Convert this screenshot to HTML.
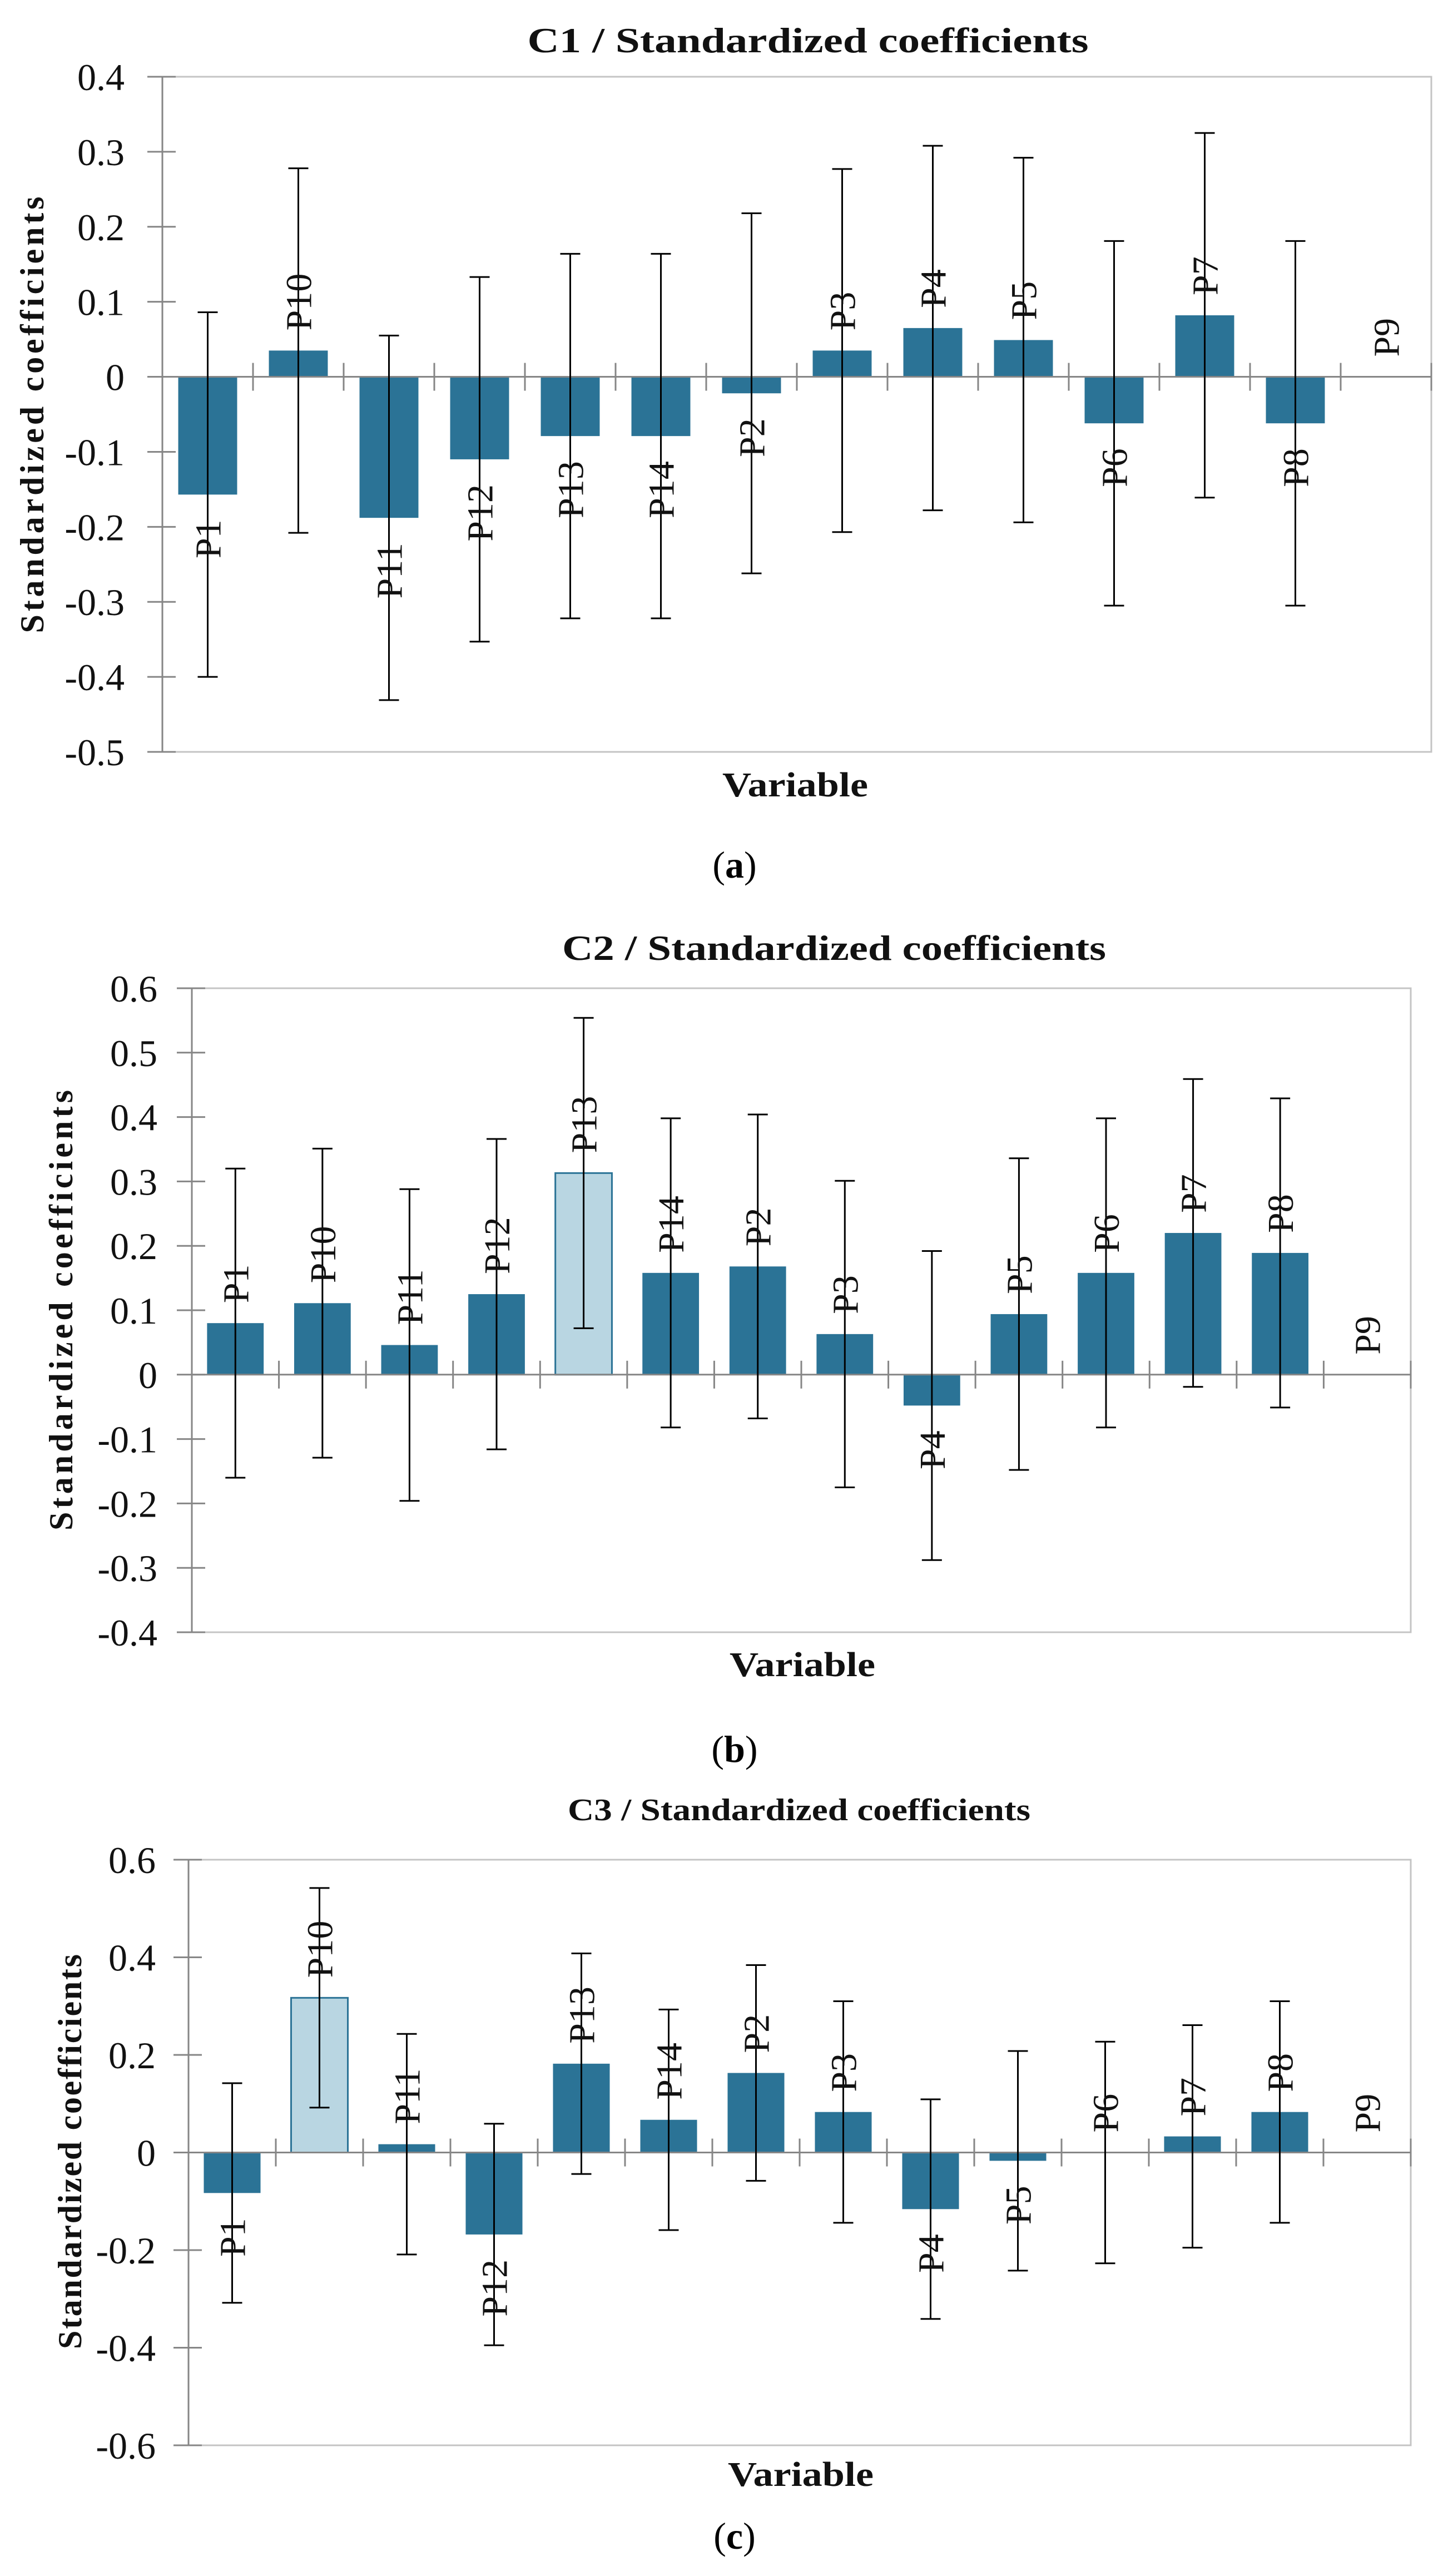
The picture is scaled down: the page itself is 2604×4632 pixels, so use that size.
<!DOCTYPE html>
<html><head><meta charset="utf-8"><style>
html,body{margin:0;padding:0;background:#fff;}
svg{display:block;font-family:"Liberation Serif",serif;}
</style></head><body>
<svg id="fig" width="2604" height="4632" viewBox="0 0 2604 4632" xmlns="http://www.w3.org/2000/svg">
<rect x="0" y="0" width="2604" height="4632" fill="#fff"/>
<g id="c1"></g>
<g id="c2"></g>
<g id="c3"></g>
<text x="1321" y="1578" font-size="68" text-anchor="middle">(<tspan font-weight="bold">a</tspan>)</text>
<text x="1321" y="3168" font-size="68" text-anchor="middle">(<tspan font-weight="bold">b</tspan>)</text>
<text x="1321" y="4583" font-size="68" text-anchor="middle">(<tspan font-weight="bold">c</tspan>)</text>
</svg>
<script>
const categories = ["P1","P10","P11","P12","P13","P14","P2","P3","P4","P5","P6","P7","P8","P9"];
const c1Values = [-0.157,0.035,-0.188,-0.110,-0.079,-0.079,-0.022,0.035,0.065,0.049,-0.062,0.082,-0.062,0];
const c1Errors = [0.243,0.243,0.243,0.243,0.243,0.243,0.240,0.242,0.243,0.243,0.243,0.243,0.243,null];
const c1Ticks = ["0.4","0.3","0.2","0.1","0","-0.1","-0.2","-0.3","-0.4","-0.5"];
const c1Highlight = [];
const c2Values = [0.080,0.111,0.046,0.125,0.313,0.158,0.168,0.063,-0.048,0.094,0.158,0.220,0.189,0];
const c2Errors = [0.240,0.240,0.242,0.241,0.241,0.240,0.236,0.238,0.240,0.242,0.240,0.239,0.240,null];
const c2Ticks = ["0.6","0.5","0.4","0.3","0.2","0.1","0","-0.1","-0.2","-0.3","-0.4"];
const c2Highlight = ["P13"];
const c3Values = [-0.083,0.317,0.017,-0.168,0.182,0.067,0.163,0.083,-0.116,-0.017,0,0.033,0.083,0];
const c3Errors = [0.225,0.225,0.226,0.227,0.226,0.226,0.221,0.227,0.225,0.225,0.227,0.228,0.227,null];
const c3Ticks = ["0.6","0.4","0.2","0","-0.2","-0.4","-0.6"];
const c3Highlight = ["P10"];

const NS = "http://www.w3.org/2000/svg";
function mk(parent, tag, attrs, txt){
  const e = document.createElementNS(NS, tag);
  for (const k in attrs) e.setAttribute(k, attrs[k]);
  if (txt !== undefined) e.textContent = txt;
  parent.appendChild(e);
  return e;
}

function drawChart(gid, cfg, values, errors, ticks, highlight){
  const g = document.getElementById(gid);
  const ymax = parseFloat(ticks[0]), ymin = parseFloat(ticks[ticks.length-1]);
  const y = v => cfg.top + (ymax - v) / (ymax - ymin) * (cfg.bottom - cfg.top);
  const n = categories.length;
  const step = (cfg.right - cfg.left) / n;
  const x = i => cfg.left + step * (i + 0.5);
  const y0 = y(0);

  const frame = mk(g, "path", {d:`M${cfg.left} ${cfg.top}H${cfg.right}V${cfg.bottom}H${cfg.left}`, fill:"none", stroke:"#c4c4c4", "stroke-width":3});
  
  

  ticks.forEach(t => {
    const v = parseFloat(t);
    const tm = mk(g, "line", {x1:cfg.left-27, x2:cfg.left+24, y1:y(v), y2:y(v), stroke:"#868686", "stroke-width":3});
    
    
    const tl = mk(g, "text", {x:cfg.left-cfg.labelGap, y:y(v)+24, "font-size":68, "text-anchor":"end", fill:"#111"}, t);
    
    
  });

  const ax = mk(g, "line", {x1:cfg.left, x2:cfg.left, y1:cfg.top, y2:cfg.bottom, stroke:"#868686", "stroke-width":3});
  
  

  const bw = step * 0.65;
  values.forEach((v, i) => {
    const hi = highlight.indexOf(categories[i]) >= 0;
    if (v !== 0) {
      const r = mk(g, "rect", {x:x(i)-bw/2, y:Math.min(y(v), y0), width:bw, height:Math.abs(y(v)-y0),
        fill: hi ? "#b9d6e2" : "#2b7396", stroke: hi ? "#2b7396" : "none", "stroke-width": hi ? 3 : 0});
      
      
    }
  });

  const zl = mk(g, "line", {x1:cfg.left, x2:cfg.right, y1:y0, y2:y0, stroke:"#868686", "stroke-width":3});
  
  
  for (let i = 1; i <= n; i++) {
    const xt = cfg.left + step * i;
    const ct = mk(g, "line", {x1:xt, x2:xt, y1:y0-25, y2:y0+25, stroke:"#868686", "stroke-width":3});
    
    
  }

  values.forEach((v, i) => {
    const e = errors[i];
    if (e === null) return;
    const eg = mk(g, "path", {d:`M${x(i)} ${y(v+e)}V${y(v-e)}M${x(i)-18} ${y(v+e)}H${x(i)+18}M${x(i)-18} ${y(v-e)}H${x(i)+18}`,
      stroke:"#000", "stroke-width":3, fill:"none"});
    
    
  });

  values.forEach((v, i) => {
    let ty, anchor;
    if (v >= 0) { ty = y(v) - 36; anchor = "start"; }
    else { ty = y(v) + 45; anchor = "end"; }
    const lab = mk(g, "text", {x:0, y:0, "font-size":66, "text-anchor":anchor, fill:"#111",
      transform:`translate(${x(i)+23},${ty}) rotate(-90)`}, categories[i]);
    
    
  });

  const tt = mk(g, "text", {x:cfg.titleX, y:cfg.titleY, "font-size":cfg.titleSize, "font-weight":"bold", "text-anchor":"middle",
    textLength:cfg.titleLen, lengthAdjust:"spacingAndGlyphs", fill:"#111"}, cfg.title);
  
  

  const xt = mk(g, "text", {x:cfg.varX, y:cfg.varY, "font-size":62, "font-weight":"bold", "text-anchor":"middle",
    textLength:262, lengthAdjust:"spacingAndGlyphs", fill:"#111"}, "Variable");
  
  

  const yt = mk(g, "text", {x:0, y:0, "font-size":60, "font-weight":"bold", "text-anchor":"middle",
    textLength:cfg.yLen, lengthAdjust:"spacing", fill:"#111",
    transform:`translate(${cfg.yX},${cfg.yY}) rotate(-90)`}, "Standardized coefficients");
  
  
}

drawChart("c1", {left:292, right:2574, top:138, bottom:1352, labelGap:68, title:"C1 / Standardized coefficients",
  titleX:1453, titleY:94, titleSize:64, titleLen:1009, varX:1430, varY:1432, yX:78, yY:746, yLen:785},
  c1Values, c1Errors, c1Ticks, c1Highlight);
drawChart("c2", {left:345, right:2537, top:1777, bottom:2935, labelGap:62, title:"C2 / Standardized coefficients",
  titleX:1500, titleY:1726, titleSize:64, titleLen:978, varX:1443, varY:3014, yX:130, yY:2356, yLen:792},
  c2Values, c2Errors, c2Ticks, c2Highlight);
drawChart("c3", {left:339, right:2537, top:3344, bottom:4397, labelGap:59, title:"C3 / Standardized coefficients",
  titleX:1437, titleY:3273, titleSize:56, titleLen:832, varX:1440, varY:4470, yX:146, yY:3869, yLen:710},
  c3Values, c3Errors, c3Ticks, c3Highlight);
</script>
</body></html>
